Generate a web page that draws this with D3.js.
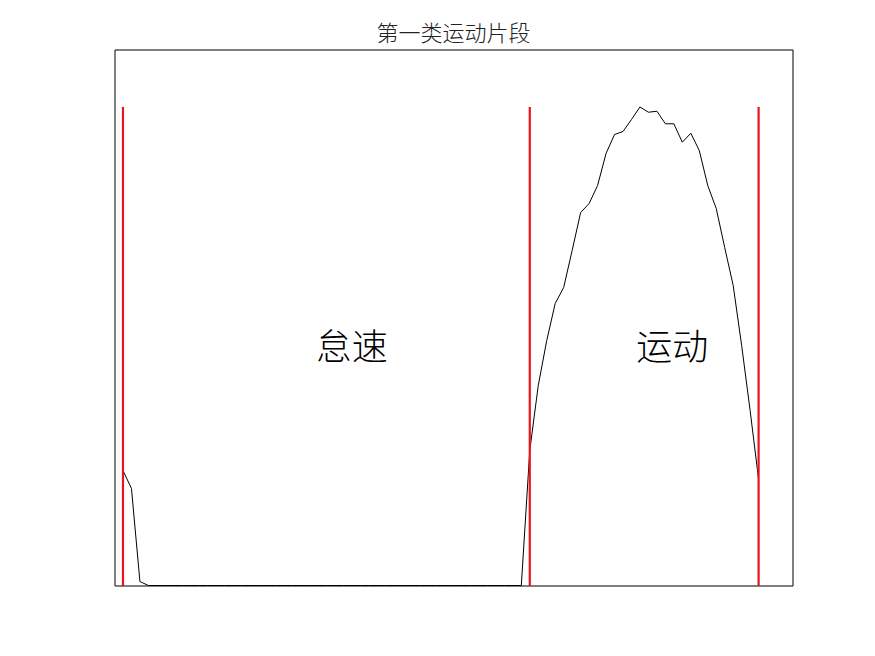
<!DOCTYPE html>
<html>
<head>
<meta charset="utf-8">
<script src="https://cdn.jsdelivr.net/npm/d3@7"></script>
<style>
  html, body { margin: 0; padding: 0; background: #fff; }
  svg { display: block; }
</style>
</head>
<body>
<svg id="chart" width="875" height="656"></svg>
<script>
// ---- data ----
const title = "第一类运动片段";
const xDomain = [0, 80];
const yDomain = [0, 50];
// sample index 1..76
const speedValues = [
  10.73, 9.05, 0.37, 0, 0, 0, 0, 0, 0, 0,
  0, 0, 0, 0, 0, 0, 0, 0, 0, 0,
  0, 0, 0, 0, 0, 0, 0, 0, 0, 0,
  0, 0, 0, 0, 0, 0, 0, 0, 0, 0,
  0, 0, 0, 0, 0, 0, 0, 0, 12.59, 18.66,
  22.85, 26.31, 27.80, 31.25, 34.79, 35.63, 37.31, 40.30, 42.07, 42.35,
  43.47, 44.64, 44.15, 44.24, 43.07, 43.07, 41.35, 42.19, 40.58, 37.31,
  35.17, 31.53, 27.99, 22.39, 16.32, 9.89
];
const boundaries = [1, 49, 76];
const segmentLabels = ["怠速", "运动"];
const labelX = [28, 65.8];
const labelY = 22.5;

// ---- drawing ----
const svg = d3.select("#chart");
const margin = { left: 114.5, right: 875 - 792.5, top: 49.5, bottom: 656 - 585.5 };
const W = 875 - margin.left - margin.right;
const H = 656 - margin.top - margin.bottom;

const x = d3.scaleLinear().domain(xDomain).range([margin.left, margin.left + W]);
const y = d3.scaleLinear().domain(yDomain).range([margin.top + H, margin.top]);

const data = speedValues.map((v, i) => ({ t: i + 1, v }));
const maxV = d3.max(speedValues);

// data line
svg.append("path")
  .datum(data)
  .attr("fill", "none")
  .attr("stroke", "#000")
  .attr("stroke-width", 1)
  .attr("d", d3.line().x(d => x(d.t)).y(d => y(d.v)));

// red boundary lines
svg.selectAll("line.bound")
  .data(boundaries)
  .join("line")
  .attr("class", "bound")
  .attr("x1", d => x(d)).attr("x2", d => x(d))
  .attr("y1", y(0)).attr("y2", y(maxV))
  .attr("stroke", "#e8161b")
  .attr("stroke-width", 2.2);

// axes box (no ticks)
svg.append("g")
  .attr("transform", `translate(0,${margin.top + H})`)
  .call(d3.axisBottom(x).tickValues([]).tickSizeOuter(0))
  .select(".domain").attr("stroke", "#000");
svg.append("g")
  .attr("transform", `translate(0,${margin.top})`)
  .call(d3.axisTop(x).tickValues([]).tickSizeOuter(0))
  .select(".domain").attr("stroke", "#000");
svg.append("g")
  .attr("transform", `translate(${margin.left},0)`)
  .call(d3.axisLeft(y).tickValues([]).tickSizeOuter(0))
  .select(".domain").attr("stroke", "#000");
svg.append("g")
  .attr("transform", `translate(${margin.left + W},0)`)
  .call(d3.axisRight(y).tickValues([]).tickSizeOuter(0))
  .select(".domain").attr("stroke", "#000");

// segment labels
svg.selectAll("text.seg")
  .data(segmentLabels)
  .join("text")
  .attr("class", "seg")
  .attr("x", (d, i) => x(labelX[i]))
  .attr("y", y(labelY))
  .attr("text-anchor", "middle")
  .attr("dominant-baseline", "central")
  .attr("font-family", "'Noto Sans CJK SC', sans-serif")
  .attr("font-weight", 300)
  .attr("font-size", 36)
  .attr("fill", "#000")
  .text(d => d);

// title
svg.append("text")
  .attr("x", margin.left + W / 2)
  .attr("y", 31)
  .attr("text-anchor", "middle")
  .attr("dominant-baseline", "central")
  .attr("font-family", "'Noto Sans CJK SC', sans-serif")
  .attr("font-weight", 300)
  .attr("font-size", 22)
  .attr("fill", "#222")
  .text(title);
</script>
</body>
</html>
